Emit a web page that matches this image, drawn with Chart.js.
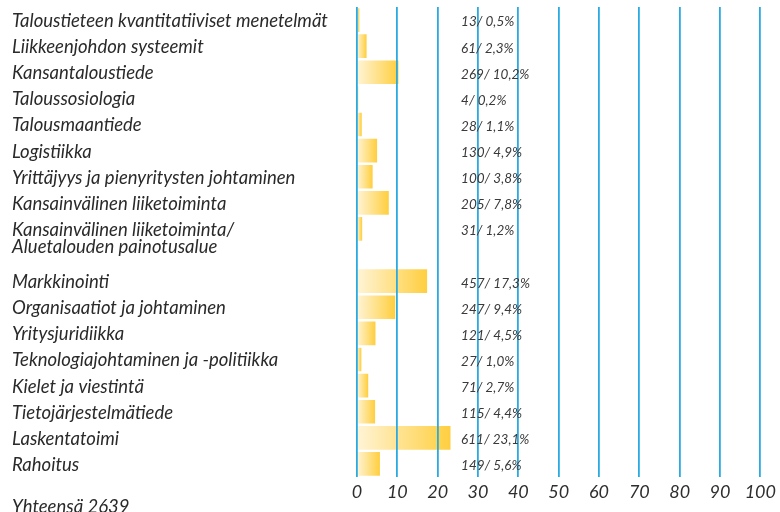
<!DOCTYPE html>
<html>
<head>
<meta charset="utf-8">
<script src="https://cdn.jsdelivr.net/npm/chart.js@4"></script>
<style>
  html, body { margin: 0; padding: 0; background: #fff; }
  #chart { display: block; }
</style>
</head>
<body>
<canvas id="chart" width="780" height="512"></canvas>
<script>
// Pääaineet: opiskelijamäärä ja osuus
const categories = [
    'Taloustieteen kvantitatiiviset menetelmät',
    'Liikkeenjohdon systeemit',
    'Kansantaloustiede',
    'Taloussosiologia',
    'Talousmaantiede',
    'Logistiikka',
    'Yrittäjyys ja pienyritysten johtaminen',
    'Kansainvälinen liiketoiminta',
    ['Kansainvälinen liiketoiminta/', 'Aluetalouden painotusalue'],
    'Markkinointi',
    'Organisaatiot ja johtaminen',
    'Yritysjuridiikka',
    'Teknologiajohtaminen ja -politiikka',
    'Kielet ja viestintä',
    'Tietojärjestelmätiede',
    'Laskentatoimi',
    'Rahoitus'
];
const counts = [13, 61, 269, 4, 28, 130, 100, 205, 31, 457, 247, 121, 27, 71, 115, 611, 149];
const percents = [0.5, 2.3, 10.2, 0.2, 1.1, 4.9, 3.8, 7.8, 1.2, 17.3, 9.4, 4.5, 1.0, 2.7, 4.4, 23.1, 5.6];
const xTicks = [0, 10, 20, 30, 40, 50, 60, 70, 80, 90, 100];
const totalLabel = 'Yhteensä 2639';

const FONT = 'Lato, "Open Sans", sans-serif';

// rows for the category axis: a two-line label takes an extra empty slot
let rowLabels = [];
let rowValues = [];
let rowIndex = [];
categories.forEach(function (c, i) {
    rowLabels.push(c);
    rowValues.push(percents[i]);
    rowIndex.push(i);
    if (Array.isArray(c)) {
        rowLabels.push('');
        rowValues.push(null);
        rowIndex.push(-1);
    }
});

function fmt(v) {
    return v.toFixed(1).replace('.', ',');
}

// pale to gold gradient along each bar
function barFill(ctx) {
    const chart = ctx.chart;
    const xs = chart.scales.x;
    if (!xs || ctx.type !== 'data' || ctx.raw == null) return '#ffd24d';
    const x0 = xs.getPixelForValue(0);
    const x1 = xs.getPixelForValue(ctx.raw);
    if (!(x1 > x0 + 0.5)) return '#ffd24d';
    const g = chart.ctx.createLinearGradient(x0, 0, x1, 0);
    g.addColorStop(0, '#fff4d6');
    g.addColorStop(1, '#ffcf40');
    return g;
}

const textPlugin = {
    id: 'texts',
    afterDraw: function (chart) {
        const c = chart.ctx;
        const ys = chart.scales.y;
        const xs = chart.scales.x;
        c.save();
        c.textAlign = 'left';
        c.textBaseline = 'middle';
        // category names
        c.fillStyle = '#2a2a2a';
        c.font = 'italic 18.5px ' + FONT;
        rowLabels.forEach(function (lab, i) {
            if (lab === '') return;
            const lines = Array.isArray(lab) ? lab : [lab];
            const y = ys.getPixelForValue(i) + 1;
            lines.forEach(function (t, j) {
                c.fillText(t, 12, y + j * 17.5);
            });
        });
        // count / percent labels
        c.fillStyle = '#3a3a3a';
        c.font = 'italic 13.5px ' + FONT;
        const lx = xs.getPixelForValue(25.8);
        rowIndex.forEach(function (k, i) {
            if (k < 0) return;
            c.fillText(counts[k] + '/ ' + fmt(percents[k]) + '%', lx, ys.getPixelForValue(i) + 2);
        });
        // total
        c.fillStyle = '#2a2a2a';
        c.font = 'italic 18.5px ' + FONT;
        c.textBaseline = 'alphabetic';
        c.fillText(totalLabel, 12, 513);
        c.restore();
    }
};

new Chart(document.getElementById('chart'), {
    type: 'bar',
    data: {
        labels: rowLabels,
        datasets: [{
            data: rowValues,
            backgroundColor: barFill,
            borderWidth: 0,
            barThickness: 23
        }]
    },
    options: {
        indexAxis: 'y',
        responsive: false,
        animation: false,
        layout: { padding: { left: 357, right: 19, top: 7, bottom: 0 } },
        plugins: {
            legend: { display: false },
            tooltip: { enabled: false }
        },
        scales: {
            x: {
                min: 0,
                max: 100,
                afterBuildTicks: function (scale) {
                    scale.ticks = xTicks.map(function (v) { return { value: v }; });
                },
                afterFit: function (scale) {
                    scale.height = 35;
                },
                grid: {
                    color: '#2aaae2',
                    lineWidth: 1.8,
                    drawTicks: false,
                    z: 1
                },
                border: { display: false },
                ticks: {
                    padding: 4,
                    maxRotation: 0,
                    minRotation: 0,
                    autoSkip: false,
                    color: '#2e2e2e',
                    font: { family: FONT, style: 'italic', size: 18 }
                }
            },
            y: {
                display: false
            }
        }
    },
    plugins: [textPlugin]
});
</script>
</body>
</html>
